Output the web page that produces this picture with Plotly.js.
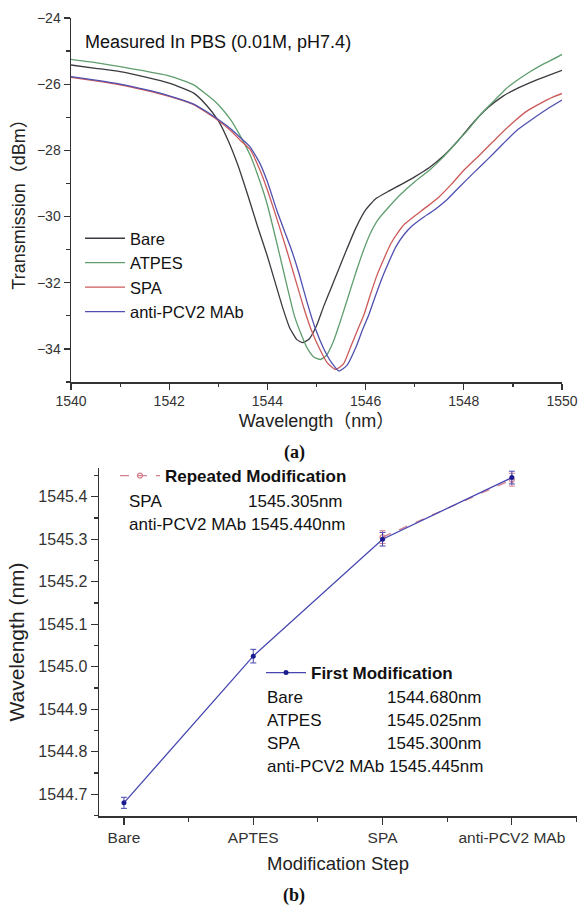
<!DOCTYPE html>
<html>
<head>
<meta charset="utf-8">
<script src="https://cdn.plot.ly/plotly-3.0.1.min.js"></script>
<style>html,body{margin:0;padding:0;background:#fff;}#chart{width:579px;height:905px;}</style>
</head>
<body>
<div id="chart"></div>
<script>
// ---------- (a) Transmission spectra ----------
const bareWl = [1540.0,1540.5,1541.0,1541.5,1542.0,1542.5,1542.75,1543.0,1543.2,1543.4,1543.6,1543.8,1544.0,1544.15,1544.3,1544.45,1544.6,1544.72,1544.85,1545.0,1545.15,1545.3,1545.45,1545.6,1545.8,1546.0,1546.2,1546.45,1546.7,1547.0,1547.3,1547.6,1547.9,1548.2,1548.5,1548.8,1549.1,1549.4,1549.7,1550.0];
const bareT  = [-25.42,-25.52,-25.62,-25.78,-25.97,-26.27,-26.62,-27.1,-27.7,-28.45,-29.35,-30.3,-31.2,-31.95,-32.7,-33.35,-33.72,-33.81,-33.7,-33.3,-32.7,-32.15,-31.6,-31.05,-30.35,-29.8,-29.47,-29.25,-29.05,-28.8,-28.52,-28.15,-27.68,-27.15,-26.7,-26.36,-26.12,-25.92,-25.75,-25.58];

const atpesWl = [1540.0,1540.5,1541.0,1541.5,1542.0,1542.5,1542.75,1543.0,1543.25,1543.45,1543.65,1543.85,1544.0,1544.2,1544.4,1544.55,1544.7,1544.82,1544.95,1545.08,1545.2,1545.35,1545.5,1545.65,1545.8,1545.95,1546.1,1546.25,1546.45,1546.7,1547.0,1547.3,1547.55,1547.8,1548.08,1548.35,1548.62,1548.85,1549.05,1549.3,1549.57,1549.8,1550.0];
const atpesT  = [-25.25,-25.35,-25.47,-25.6,-25.75,-26.02,-26.3,-26.62,-27.07,-27.57,-28.15,-28.95,-29.65,-30.85,-32.1,-33.0,-33.6,-34.0,-34.25,-34.32,-34.2,-33.75,-33.1,-32.4,-31.7,-31.05,-30.5,-30.1,-29.75,-29.35,-28.95,-28.6,-28.25,-27.85,-27.39,-26.9,-26.5,-26.15,-25.92,-25.67,-25.43,-25.26,-25.1];

const spaWl = [1540.0,1540.5,1541.0,1541.5,1542.0,1542.5,1542.75,1543.0,1543.25,1543.45,1543.65,1543.85,1544.0,1544.2,1544.4,1544.6,1544.75,1544.9,1545.08,1545.22,1545.39,1545.55,1545.69,1545.83,1545.97,1546.1,1546.24,1546.38,1546.51,1546.65,1546.8,1547.0,1547.25,1547.5,1547.75,1548.0,1548.35,1548.7,1549.03,1549.3,1549.6,1549.8,1550.0];
const spaT  = [-25.79,-25.9,-26.02,-26.18,-26.37,-26.62,-26.85,-27.1,-27.4,-27.7,-27.98,-28.6,-29.2,-30.1,-31.05,-32.05,-32.8,-33.45,-34.05,-34.42,-34.62,-34.45,-33.96,-33.45,-32.95,-32.35,-31.74,-31.25,-30.83,-30.5,-30.22,-29.98,-29.7,-29.4,-29.02,-28.6,-28.1,-27.58,-27.12,-26.8,-26.55,-26.4,-26.28];

const mabWl = [1540.0,1540.5,1541.0,1541.5,1542.0,1542.5,1542.75,1543.0,1543.25,1543.45,1543.65,1543.85,1544.0,1544.2,1544.35,1544.5,1544.65,1544.81,1544.98,1545.15,1545.3,1545.46,1545.62,1545.8,1545.93,1546.07,1546.2,1546.34,1546.48,1546.61,1546.78,1546.95,1547.15,1547.4,1547.65,1547.9,1548.2,1548.5,1548.8,1549.1,1549.4,1549.7,1550.0];
const mabT  = [-25.77,-25.88,-26.0,-26.16,-26.35,-26.6,-26.82,-27.07,-27.35,-27.62,-27.9,-28.4,-28.95,-29.85,-30.45,-31.05,-31.75,-32.6,-33.4,-34.0,-34.4,-34.67,-34.5,-33.96,-33.45,-32.95,-32.4,-31.84,-31.35,-30.93,-30.55,-30.28,-30.05,-29.8,-29.5,-29.12,-28.68,-28.25,-27.8,-27.37,-27.05,-26.75,-26.48];

const spectraNames = ["Bare","ATPES","SPA","anti-PCV2 MAb"];
const spectraColors = ["#3a3a40","#5f9e6e","#cc5a5a","#5050b0"];

// ---------- (b) Resonance wavelength per modification step ----------
const steps = ["Bare","APTES","SPA","anti-PCV2 MAb"];
const firstLabels = ["Bare","ATPES","SPA","anti-PCV2 MAb"];
const firstWl = [1544.680,1545.025,1545.300,1545.445];
const firstErr = [0.013,0.016,0.016,0.015];
const repSteps = ["SPA","anti-PCV2 MAb"];
const repWl = [1545.305,1545.440];
const repErr = [0.015,0.015];

const FONT = "Liberation Sans, Arial, Noto Sans CJK SC, sans-serif";
const spectraX = [bareWl, atpesWl, spaWl, mabWl];
const spectraY = [bareT, atpesT, spaT, mabT];

const traces = spectraNames.map((n,i)=>({
  type:"scatter", mode:"lines", name:n, x:spectraX[i], y:spectraY[i],
  xaxis:"x", yaxis:"y", line:{color:spectraColors[i], width:1.3, shape:"spline", smoothing:0.5},
  legend:"legend"
}));

const stepIdx = steps.map((s,i)=>i);
traces.push({
  type:"scatter", mode:"lines+markers", name:"<b>Repeated Modification</b>",
  x:repSteps.map(s=>steps.indexOf(s)), y:repWl, xaxis:"x2", yaxis:"y2",
  line:{color:"#d4808f", width:1.3, dash:"dash"},
  marker:{symbol:"circle-open", size:5, color:"#d4808f", line:{width:1.2}},
  error_y:{type:"data", array:repErr, visible:true, color:"#d4808f", thickness:1, width:3},
  legend:"legend2"
});
traces.push({
  type:"scatter", mode:"lines+markers", name:"<b>First Modification</b>",
  x:stepIdx, y:firstWl, xaxis:"x2", yaxis:"y2",
  line:{color:"#4646b0", width:1.3},
  marker:{symbol:"circle", size:5, color:"#1c1c90"},
  error_y:{type:"data", array:firstErr, visible:true, color:"#4646b0", thickness:1, width:3},
  legend:"legend3"
});

const W = 579, H = 905;
const px = v => v / W;
const py = v => 1 - v / H;

const annotations = [];
annotations.push({xref:"paper", yref:"paper", x:px(83), y:py(42), xanchor:"left", yanchor:"middle",
  text:"Measured In PBS (0.01M, pH7.4)", showarrow:false, font:{family:FONT, size:18, color:"#111"}});
annotations.push({xref:"paper", yref:"paper", x:px(294), y:py(452), xanchor:"center", yanchor:"middle",
  text:"<b>(a)</b>", showarrow:false, font:{family:"Liberation Serif, Times New Roman, serif", size:18, color:"#111"}});
annotations.push({xref:"paper", yref:"paper", x:px(294), y:py(895), xanchor:"center", yanchor:"middle",
  text:"<b>(b)</b>", showarrow:false, font:{family:"Liberation Serif, Times New Roman, serif", size:18, color:"#111"}});

// Repeated modification text rows
const repRowsY = [501, 524];
repSteps.forEach((s,i)=>{
  if (s.length > 4) {
    annotations.push({xref:"paper", yref:"paper", x:px(127), y:py(repRowsY[i]), xanchor:"left", yanchor:"middle",
      text:s+" "+repWl[i].toFixed(3)+"nm", showarrow:false, font:{family:FONT, size:17, color:"#111"}});
  } else {
    annotations.push({xref:"paper", yref:"paper", x:px(127), y:py(repRowsY[i]), xanchor:"left", yanchor:"middle",
      text:s, showarrow:false, font:{family:FONT, size:17, color:"#111"}});
    annotations.push({xref:"paper", yref:"paper", x:px(345), y:py(repRowsY[i]), xanchor:"right", yanchor:"middle",
      text:repWl[i].toFixed(3)+"nm", showarrow:false, font:{family:FONT, size:17, color:"#111"}});
  }
});
// First modification text rows
const firstRowsY = [697, 720, 743, 766];
firstLabels.forEach((s,i)=>{
  if (s.length > 5) {
    annotations.push({xref:"paper", yref:"paper", x:px(265), y:py(firstRowsY[i]), xanchor:"left", yanchor:"middle",
      text:s+" "+firstWl[i].toFixed(3)+"nm", showarrow:false, font:{family:FONT, size:17, color:"#111"}});
  } else {
    annotations.push({xref:"paper", yref:"paper", x:px(265), y:py(firstRowsY[i]), xanchor:"left", yanchor:"middle",
      text:s, showarrow:false, font:{family:FONT, size:17, color:"#111"}});
    annotations.push({xref:"paper", yref:"paper", x:px(385), y:py(firstRowsY[i]), xanchor:"left", yanchor:"middle",
      text:firstWl[i].toFixed(3)+"nm", showarrow:false, font:{family:FONT, size:17, color:"#111"}});
  }
});

const axCommon = {showline:true, linecolor:"#333", linewidth:1.5, showgrid:false, zeroline:false,
  ticks:"outside", tickcolor:"#333", tickwidth:1.3};

const layout = {
  width:W, height:H, margin:{l:0,r:0,t:0,b:0}, paper_bgcolor:"#fff", plot_bgcolor:"#fff",
  font:{family:FONT, color:"#222"},
  xaxis:Object.assign({}, axCommon, {domain:[px(71), px(562)], anchor:"y", range:[1540,1550],
    tick0:1540, dtick:2, ticklen:6, tickfont:{size:14, color:"#333"},
    minor:{dtick:1, ticks:"outside", ticklen:3.5, tickwidth:1.2, tickcolor:"#333"},
    title:{text:"Wavelength（nm）", font:{size:18, color:"#222"}, standoff:6}}),
  yaxis:Object.assign({}, axCommon, {domain:[py(382), py(18)], anchor:"x", range:[-35,-24],
    tick0:-24, dtick:2, ticklen:6, tickfont:{size:14, color:"#333"},
    minor:{dtick:1, ticks:"outside", ticklen:3.5, tickwidth:1.2, tickcolor:"#333"},
    title:{text:"Transmission（dBm）", font:{size:18, color:"#222"}, standoff:6}}),
  xaxis2:Object.assign({}, axCommon, {domain:[px(99), px(577)], anchor:"y2", range:[-0.193,3.504],
    tickmode:"array", tickvals:stepIdx, ticktext:steps, ticklen:7, tickfont:{size:15.5, color:"#333"},
    minor:{tickmode:"array", tickvals:[0.5,1.5,2.5,3.5], ticks:"outside", ticklen:4, tickwidth:1.2, tickcolor:"#333"},
    title:{text:"Modification Step", font:{size:18.5, color:"#222"}, standoff:12}}),
  yaxis2:Object.assign({}, axCommon, {domain:[py(816), py(468)], anchor:"x2", range:[1544.649,1545.4675],
    tick0:1544.7, dtick:0.1, tickformat:".1f", ticklen:7, tickfont:{size:16, color:"#333"},
    minor:{dtick:0.05, ticks:"outside", ticklen:4, tickwidth:1.2, tickcolor:"#333"},
    title:{text:"Wavelength (nm)", font:{size:21, color:"#222"}, standoff:8}}),
  legend:{x:px(80), y:py(221), xanchor:"left", yanchor:"top", bgcolor:"rgba(0,0,0,0)",
    font:{family:FONT, size:16.5, color:"#111"}, itemwidth:40, tracegroupgap:0},
  legend2:{x:px(115), y:py(458), xanchor:"left", yanchor:"top", bgcolor:"rgba(0,0,0,0)",
    font:{family:FONT, size:17, color:"#111"}, itemwidth:40},
  legend3:{x:px(261), y:py(655), xanchor:"left", yanchor:"top", bgcolor:"rgba(0,0,0,0)",
    font:{family:FONT, size:17, color:"#111"}, itemwidth:40},
  annotations:annotations,
  showlegend:true
};

Plotly.newPlot("chart", traces, layout, {staticPlot:true, displayModeBar:false});
</script>
</body>
</html>
